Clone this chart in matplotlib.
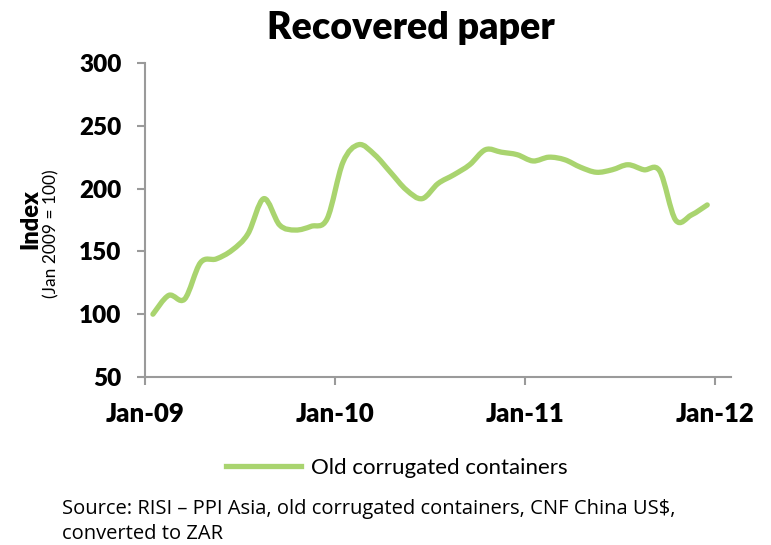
import numpy as np
import matplotlib.pyplot as plt
from matplotlib.path import Path
from matplotlib.patches import PathPatch
from matplotlib.lines import Line2D

plt.rcParams['font.family'] = ['Lato', 'DejaVu Sans']

# monthly index, Jan 2009 .. Dec 2011 (Jan 2009 = 100)
occ_index = [100, 115, 112, 141, 144, 151, 164, 192, 171, 167, 170, 176,
             221, 235, 227, 213, 199, 192, 204, 211, 219, 231, 229, 227,
             222, 225, 223, 217, 213, 215, 219, 215, 214, 175, 179, 187]
y_ticks = [50, 100, 150, 200, 250, 300]
year_ticks = [0, 12, 24, 36]
year_labels = ['Jan-09', 'Jan-10', 'Jan-11', 'Jan-12']

green = '#a9d46f'
grey = '#9a9a9a'


def smooth_path(x, y, k=1/6):
    # bezier through every point, tangents from the neighbours
    x = np.asarray(x, float); y = np.asarray(y, float)
    n = len(x)
    verts = [(x[0], y[0])]
    codes = [Path.MOVETO]
    for i in range(n - 1):
        p0 = max(i - 1, 0); p3 = min(i + 2, n - 1)
        c1 = (x[i] + (x[i+1] - x[p0]) * k, y[i] + (y[i+1] - y[p0]) * k)
        c2 = (x[i+1] - (x[p3] - x[i]) * k, y[i+1] - (y[p3] - y[i]) * k)
        verts += [c1, c2, (x[i+1], y[i+1])]
        codes += [Path.CURVE4] * 3
    return Path(verts, codes)


fig = plt.figure(figsize=(7.71, 5.45), dpi=100)
ax = fig.add_axes([145/771, 1 - 377/545, (731 - 145)/771, (377 - 63)/545])

months = np.arange(len(occ_index)) + 0.5
ax.add_patch(PathPatch(smooth_path(months, occ_index), fill=False,
                       edgecolor=green, linewidth=3.8, capstyle='round',
                       joinstyle='round'))

ax.set_xlim(0, 37)
ax.set_ylim(50, 300)
ax.set_yticks(y_ticks)
ax.set_yticklabels([str(v) for v in y_ticks], fontsize=17.5, fontweight='heavy')
ax.set_xticks(year_ticks)
ax.set_xticklabels(year_labels, fontsize=18.5, fontweight='heavy')

for s in ['top', 'right']:
    ax.spines[s].set_visible(False)
for s in ['left', 'bottom']:
    ax.spines[s].set_color(grey)
    ax.spines[s].set_linewidth(1.5)
ax.tick_params(colors=grey, width=1.5, length=6)
ax.tick_params(axis='y', labelcolor='black', pad=11)
ax.tick_params(axis='x', labelcolor='black', pad=12)

fig.text(411/771, 1 - 28/545, 'Recovered paper', ha='center', va='center',
         fontsize=27, fontweight='heavy')
fig.text(30/771, 1 - 219/545, 'Index', rotation=90, ha='center',
         va='center', fontsize=17, fontweight='heavy')
fig.text(51/771, 1 - 234/545, '(Jan 2009 = 100)', rotation=90,
         ha='center', va='center', fontsize=12.5)

leg = fig.legend([Line2D([], [], color=green, linewidth=3.8)],
                 ['Old corrugated containers'], loc='center',
                 bbox_to_anchor=(397/771, 1 - 468/545), frameon=False,
                 handlelength=3.4, handletextpad=0.45,
                 prop={'size': 16})

fig.text(62/771, 1 - 509/545,
         'Source: RISI \u2013 PPI Asia, old corrugated containers, CNF China US$,',
         ha='left', va='center', fontsize=14.5, family='Open Sans')
fig.text(62/771, 1 - 534/545, 'converted to ZAR', ha='left', va='center',
         fontsize=14.5, family='Open Sans')

fig.savefig('out.png', dpi=100)
